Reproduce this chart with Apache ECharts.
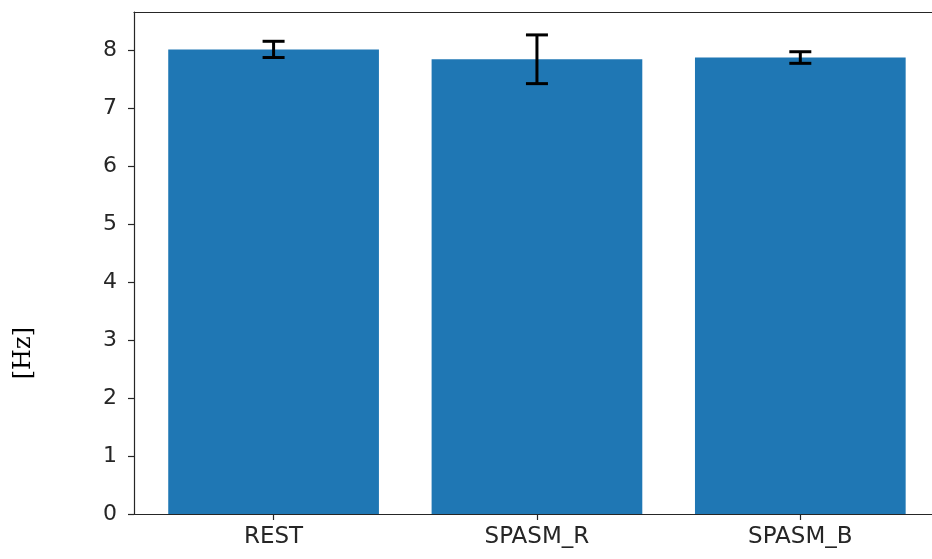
<!DOCTYPE html>
<html>
<head>
<meta charset="utf-8">
<script src="https://cdn.jsdelivr.net/npm/echarts@6/dist/echarts.min.js"></script>
<style>
  html, body { margin: 0; padding: 0; background: #fff; }
  #chart { width: 932px; height: 559px; }
</style>
</head>
<body>
<div id="chart"></div>
<script>
// Mean frequency per condition, with error bar half-widths
const categories = ['REST', 'SPASM_R', 'SPASM_B'];
const means = [8.01, 7.84, 7.87];
const errors = [0.14, 0.42, 0.10];
const yTicks = [0, 1, 2, 3, 4, 5, 6, 7, 8];

const BAR_WIDTH = 0.8;
const X_MIN = -0.53, X_MAX = 2.50;
const barData = means.map((m, i) => [i, m]);
const errData = means.map((m, i) => [i, m - errors[i], m + errors[i]]);

const chart = echarts.init(document.getElementById('chart'));
const textColor = '#262626';
const spine = { color: '#262626', width: 1.2 };

chart.setOption({
  animation: false,
  grid: { left: 134, top: 12, bottom: 45, right: 0, outerBoundsMode: 'none' },
  xAxis: [
    {
      type: 'value',
      min: X_MIN, max: X_MAX,
      splitLine: { show: false },
      axisLine: { show: true, onZero: false, lineStyle: spine },
      axisTick: { show: true, length: 6, customValues: [0, 1, 2], lineStyle: spine },
      axisLabel: {
        customValues: [0, 1, 2],
        formatter: v => categories[Math.round(v)] || '',
        color: textColor, fontFamily: 'DejaVu Sans', fontSize: 23, margin: 12
      }
    },
    {
      // top spine
      type: 'value', position: 'top',
      min: X_MIN, max: X_MAX,
      splitLine: { show: false },
      axisLine: { show: true, onZero: false, lineStyle: spine },
      axisTick: { show: false },
      axisLabel: { show: false }
    }
  ],
  yAxis: {
    type: 'value',
    min: 0, max: 8.655, interval: 1,
    splitLine: { show: false },
    axisLine: { show: true, onZero: false, lineStyle: spine },
    axisTick: { show: true, length: 6, customValues: yTicks, lineStyle: spine },
    axisLabel: {
      customValues: yTicks,
      color: textColor, fontFamily: 'DejaVu Sans', fontSize: 22, margin: 17
    }
  },
  graphic: [{
    type: 'text',
    left: 12, top: 327,
    rotation: Math.PI / 2,
    style: { text: '[Hz]', font: '24px "DejaVu Serif"', fill: '#000' }
  }],
  series: [
    {
      type: 'custom',
      data: barData,
      renderItem: (params, api) => {
        const x = api.value(0), y = api.value(1);
        const top = api.coord([x, y]);
        const base = api.coord([x, 0]);
        const w = api.size([BAR_WIDTH, 0])[0];
        return {
          type: 'rect',
          shape: { x: top[0] - w / 2, y: top[1], width: w, height: base[1] - top[1] },
          style: { fill: '#1f77b4' }
        };
      }
    },
    {
      type: 'custom',
      data: errData,
      z: 5,
      renderItem: (params, api) => {
        const x = api.value(0);
        const lo = api.coord([x, api.value(1)]);
        const hi = api.coord([x, api.value(2)]);
        const cap = 11;
        const st = { stroke: '#000', lineWidth: 3 };
        return {
          type: 'group',
          children: [
            { type: 'line', shape: { x1: lo[0], y1: lo[1], x2: hi[0], y2: hi[1] }, style: st },
            { type: 'line', shape: { x1: lo[0] - cap, y1: lo[1], x2: lo[0] + cap, y2: lo[1] }, style: st },
            { type: 'line', shape: { x1: hi[0] - cap, y1: hi[1], x2: hi[0] + cap, y2: hi[1] }, style: st }
          ]
        };
      }
    }
  ]
});
</script>
</body>
</html>
